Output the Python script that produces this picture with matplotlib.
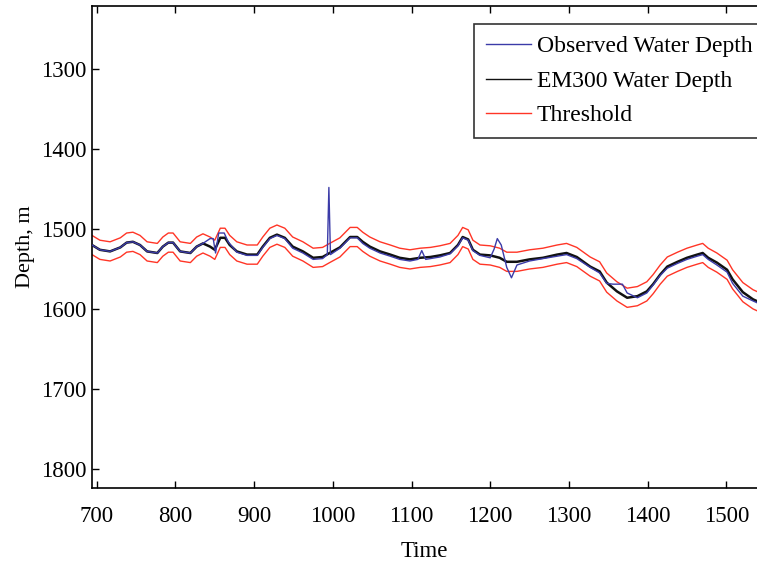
import matplotlib
matplotlib.use("Agg")
import matplotlib.pyplot as plt

plt.rcParams['font.family'] = ['Liberation Serif', 'DejaVu Serif']

# EM300 water depth
em300_time = [694, 704, 717, 730, 738, 746, 755, 764, 777, 784, 791, 797, 806, 819, 827, 835,
              844, 850, 857, 863, 869, 878, 891, 904, 911, 920, 929, 939, 949, 962, 975, 987,
              996, 1009, 1022, 1031, 1038, 1047, 1060, 1073, 1085, 1098, 1111, 1124, 1136, 1149,
              1159, 1165, 1172, 1178, 1187, 1200, 1212, 1221, 1234, 1250, 1267, 1285, 1297, 1310,
              1327, 1339, 1348, 1361, 1374, 1387, 1399, 1407, 1416, 1425, 1438, 1450, 1463, 1470,
              1477, 1488, 1501, 1508, 1521, 1534, 1543]
em300_depth = [1520, 1526, 1528, 1523, 1517, 1516, 1520, 1528, 1530, 1522, 1517, 1517, 1528, 1530,
               1522, 1518, 1522, 1526, 1511, 1511, 1520, 1528, 1532, 1532, 1522, 1511, 1507, 1511,
               1522, 1528, 1536, 1535, 1530, 1523, 1510, 1510, 1516, 1522, 1528, 1532, 1536, 1538,
               1536, 1535, 1533, 1530, 1520, 1510, 1513, 1526, 1532, 1533, 1536, 1541, 1541, 1538,
               1536, 1532, 1530, 1535, 1547, 1553, 1567, 1578, 1586, 1584, 1578, 1569, 1557, 1547,
               1541, 1536, 1532, 1530, 1536, 1542, 1551, 1563, 1579, 1588, 1592]

# threshold band (upper = shallow side, lower = deep side)
thr_upper = [1508, 1514, 1516, 1511, 1505, 1504, 1508, 1516, 1518, 1510, 1505, 1505, 1516, 1518,
             1510, 1506, 1510, 1514, 1499, 1499, 1508, 1516, 1520, 1520, 1510, 1499, 1495, 1499,
             1510, 1516, 1524, 1523, 1518, 1511, 1498, 1498, 1504, 1510, 1516, 1520, 1524, 1526,
             1524, 1523, 1521, 1518, 1508, 1498, 1501, 1514, 1520, 1521, 1524, 1529, 1529, 1526,
             1524, 1520, 1518, 1523, 1535, 1541, 1555, 1566, 1574, 1572, 1566, 1557, 1545, 1535,
             1529, 1524, 1520, 1518, 1524, 1530, 1539, 1551, 1567, 1576, 1580]
thr_lower = [1532, 1538, 1540, 1535, 1529, 1528, 1532, 1540, 1542, 1534, 1529, 1529, 1540, 1542,
             1534, 1530, 1534, 1538, 1523, 1523, 1532, 1540, 1544, 1544, 1534, 1523, 1519, 1523,
             1534, 1540, 1548, 1547, 1542, 1535, 1522, 1522, 1528, 1534, 1540, 1544, 1548, 1550,
             1548, 1547, 1545, 1542, 1532, 1522, 1525, 1538, 1544, 1545, 1548, 1553, 1553, 1550,
             1548, 1544, 1542, 1547, 1559, 1565, 1579, 1590, 1598, 1596, 1590, 1581, 1569, 1559,
             1553, 1548, 1544, 1542, 1548, 1554, 1563, 1575, 1591, 1600, 1604]

# observed water depth (follows EM300 except for a few blunders)
obs_time = [694, 704, 717, 730, 738, 746, 755, 764, 777, 784, 791, 797, 806, 819, 827, 835,
            844, 848, 851, 855, 862, 867, 878, 891, 904, 911, 920, 929, 939, 949, 962, 975, 987,
            993, 995, 997, 1009, 1022, 1031, 1038, 1047, 1060, 1073, 1085, 1098, 1108, 1113, 1118,
            1124, 1136, 1149, 1159, 1165, 1172, 1178, 1187, 1200, 1205, 1209, 1214, 1221, 1227,
            1234, 1250, 1267, 1285, 1297, 1310, 1327, 1339, 1348, 1356, 1368, 1374, 1387, 1399,
            1407, 1416, 1425, 1438, 1450, 1463, 1470, 1477, 1488, 1501, 1508, 1521, 1534, 1543]
obs_depth = [1520, 1526, 1528, 1523, 1517, 1516, 1520, 1528, 1530, 1522, 1517, 1517, 1528, 1530,
             1522, 1518, 1512, 1512, 1530, 1505, 1505, 1516, 1529, 1533, 1533, 1523, 1512, 1508, 1512,
             1524, 1530, 1538, 1537, 1532, 1448, 1532, 1524, 1511, 1511, 1518, 1524, 1530, 1534,
             1538, 1540, 1538, 1527, 1538, 1537, 1535, 1531, 1521, 1511, 1514, 1527, 1533, 1536,
             1525, 1512, 1520, 1548, 1561, 1545, 1540, 1537, 1534, 1532, 1537, 1548, 1555, 1568,
             1569, 1569, 1580, 1586, 1580, 1570, 1558, 1549, 1543, 1538, 1534, 1532, 1538, 1545,
             1554, 1568, 1584, 1590, 1594]

fig = plt.figure(figsize=(7.57, 5.65), dpi=100)
ax = fig.add_axes([92 / 757, 77 / 565, 1 - 92 / 757, 482 / 565])

ax.plot(obs_time, obs_depth, color='#3b3ba8', lw=1.0, label='Observed Water Depth', zorder=4)
ax.plot(em300_time, em300_depth, color='#111111', lw=1.8, label='EM300 Water Depth', zorder=3)
ax.plot(em300_time, thr_upper, color='#ff3526', lw=1.0, label='Threshold', zorder=2)
ax.plot(em300_time, thr_lower, color='#ff3526', lw=1.0, zorder=2)

ax.set_xlim(694, 1539)
ax.set_ylim(1824, 1221)
ax.set_xticks([700, 800, 900, 1000, 1100, 1200, 1300, 1400, 1500])
ax.set_yticks([1300, 1400, 1500, 1600, 1700, 1800])
ax.tick_params(direction='in', length=5, width=1, labelsize=16.5, top=True, right=False)
ax.tick_params(axis='x', pad=13)
ax.tick_params(axis='y', pad=4)
ax.spines['right'].set_visible(False)
for s in ['left', 'bottom', 'top']:
    ax.spines[s].set_linewidth(1.2)

ax.set_xlabel('Time', fontsize=16.5, labelpad=10)
ax.set_ylabel('Depth, m', fontsize=16, labelpad=4)

leg = ax.legend(loc='upper left', bbox_to_anchor=(474 / 757, 1 - 24 / 565),
                bbox_transform=fig.transFigure, fontsize=17, frameon=True, fancybox=False,
                handlelength=1.9, labelspacing=0.55, borderpad=0.5, handletextpad=0.25,
                borderaxespad=0)
leg.get_frame().set_edgecolor('black')
leg.get_frame().set_linewidth(1.2)
for line in leg.get_lines():
    line.set_linewidth(1.0)

fig.savefig('out.png', dpi=100)
